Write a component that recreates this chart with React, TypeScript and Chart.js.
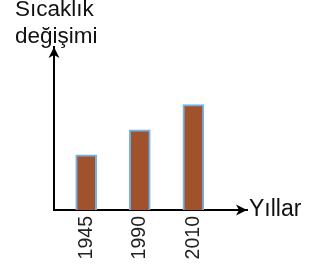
import React, { useEffect, useRef } from "react";
import { Chart, registerables } from "chart.js";

Chart.register(...registerables);

const categories = ["1945", "1990", "2010"];
const values = [2.2, 3.2, 4.2];
const yTitleLines = ["Sıcaklık", "değişimi"];
const xTitle = "Yıllar";

const FONT = "'Liberation Sans', Arial, sans-serif";

const arrowPlugin = {
  id: "axisArrows",
  afterDraw(chart: any) {
    const { ctx, chartArea } = chart;
    const { left, right, top, bottom } = chartArea;
    ctx.save();
    ctx.fillStyle = "#000";
    // y-axis arrow head
    ctx.beginPath();
    ctx.moveTo(left, top);
    ctx.lineTo(left - 5.5, top + 11);
    ctx.lineTo(left, top + 8);
    ctx.lineTo(left + 5.5, top + 11);
    ctx.closePath();
    ctx.fill();
    // x-axis arrow head
    ctx.beginPath();
    ctx.moveTo(right, bottom);
    ctx.lineTo(right - 11, bottom - 5.5);
    ctx.lineTo(right - 8, bottom);
    ctx.lineTo(right - 11, bottom + 5.5);
    ctx.closePath();
    ctx.fill();
    // titles
    ctx.fillStyle = "#111";
    ctx.font = `22.5px ${FONT}`;
    ctx.textAlign = "left";
    ctx.textBaseline = "alphabetic";
    ctx.fillText(yTitleLines[0], left - 39, top - 31);
    ctx.fillText(yTitleLines[1], left - 39, top - 4);
    ctx.font = `23px ${FONT}`;
    ctx.textBaseline = "middle";
    ctx.fillText(xTitle, right + 2, bottom);
    ctx.restore();
  },
};

export default function App() {
  const ref = useRef<HTMLCanvasElement>(null);

  useEffect(() => {
    if (!ref.current) return;
    const chart = new Chart(ref.current, {
      type: "bar",
      data: {
        datasets: [
          {
            data: categories.map((_, i) => ({ x: i + 1, y: values[i] })),
            backgroundColor: "#a0522d",
            borderColor: "#72b2e6",
            borderWidth: 2,
            barThickness: 21,
          },
        ],
      },
      options: {
        animation: false,
        responsive: false,
        devicePixelRatio: 1,
        layout: { padding: { top: 47, right: 71, left: 0, bottom: 0 } },
        plugins: {
          legend: { display: false },
          tooltip: { enabled: false },
          title: { display: false },
        },
        scales: {
          x: {
            type: "linear",
            offset: false,
            min: 0.4,
            max: 4.0,
            grid: { display: false, offset: false },
            border: { display: true, color: "#000", width: 2 },
            afterBuildTicks: (scale: any) => {
              scale.ticks = categories.map((_, i) => ({ value: i + 1 }));
            },
            afterFit: (scale: any) => {
              scale.height = 55;
            },
            ticks: {
              autoSkip: false,
              minRotation: 90,
              maxRotation: 90,
              padding: -2,
              color: "#222",
              font: { size: 19.5, family: FONT },
              callback: (v: any) => categories[Number(v) - 1] ?? "",
            },
          },
          y: {
            min: 0,
            max: 6.5,
            grid: { display: false },
            border: { display: true, color: "#000", width: 2 },
            ticks: { display: false },
            afterFit: (scale: any) => {
              scale.width = 54;
            },
          },
        },
      },
      plugins: [arrowPlugin],
    } as any);
    return () => chart.destroy();
  }, []);

  return (
    <div style={{ position: "fixed", left: 0, top: 0, width: 318, height: 265, background: "#fff" }}>
      <canvas ref={ref} width={318} height={265} />
    </div>
  );
}
